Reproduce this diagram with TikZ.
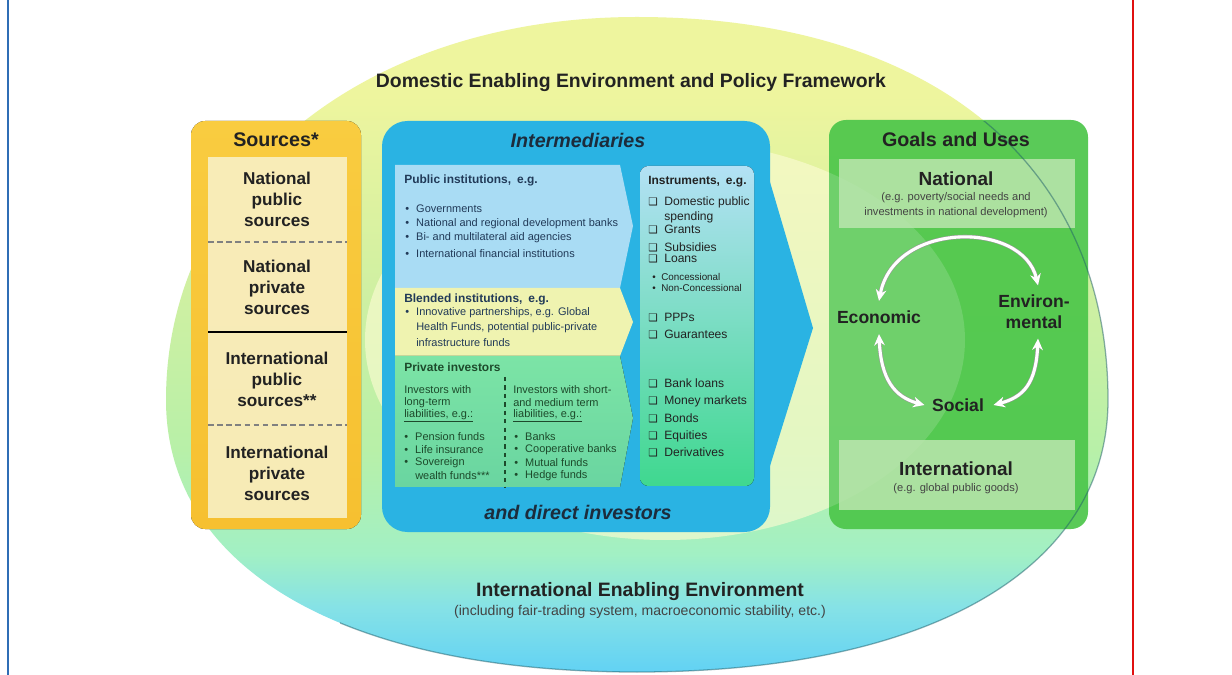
\documentclass[tikz,border=0pt]{standalone}
\usepackage{fontspec}
\setmainfont{Liberation Sans}
\newfontfamily\symfont{DejaVu Sans}
\usetikzlibrary{arrows.meta,positioning,calc}

\definecolor{PageBlue}{HTML}{2F6DB5}
\definecolor{PageRed}{HTML}{E01010}
\definecolor{EnvTop}{HTML}{EEF59E}
\definecolor{EnvMid}{HTML}{CFF0A2}
\definecolor{EnvLeaf}{HTML}{B8F0A8}
\definecolor{EnvMint}{HTML}{A2F0C4}
\definecolor{EnvCyan}{HTML}{86E2E6}
\definecolor{EnvBot}{HTML}{62D2F4}
\definecolor{EnvInner}{HTML}{FBFBD2}
\definecolor{EnvEdge}{HTML}{1F5F6A}
\definecolor{SrcGold}{HTML}{F6C030}
\definecolor{SrcGoldTop}{HTML}{F9CC40}
\definecolor{SrcCream}{HTML}{F8EFC2}
\definecolor{MidBlue}{HTML}{2AB3E3}
\definecolor{PubBlue}{HTML}{A9DCF4}
\definecolor{BlendYellow}{HTML}{EFF3B0}
\definecolor{PrivGreen}{HTML}{7CE4A6}
\definecolor{InstrTop}{HTML}{B3E1F5}
\definecolor{InstrMid}{HTML}{F3F5B2}
\definecolor{InstrBot}{HTML}{3FD88F}
\definecolor{GoalGreen}{HTML}{4CC64A}
\definecolor{GoalPale}{HTML}{BBE6AE}
\definecolor{InkDark}{HTML}{222222}
\definecolor{InkSlate}{HTML}{1C2C3C}
\definecolor{InkBlue}{HTML}{213A58}
\definecolor{InkGreen}{HTML}{1D4A2B}

% yellow at the top, green in the middle, sky blue at the bottom
\pgfdeclareverticalshading{envshade}{100bp}{color(0bp)=(EnvBot); color(25bp)=(EnvBot);
  color(30bp)=(EnvCyan); color(34bp)=(EnvMint); color(42bp)=(EnvLeaf);
  color(54bp)=(EnvMid); color(69bp)=(EnvTop); color(100bp)=(EnvTop)}

\newcommand{\ckbox}{\makebox[11.4pt][l]{{\symfont\fontsize{7.5}{8}\selectfont ❑}}}
\newcommand{\itm}{\makebox[7.8pt][l]{\textbullet}}
\newcommand{\itmgap}{\hspace*{7.8pt}}

\begin{document}
\begin{tikzpicture}[x=0.025cm, y=-0.025cm,
  bigtitle/.style={font=\fontsize{13.8}{16}\selectfont\bfseries, text=InkDark},
  envnote/.style={font=\fontsize{10}{12}\selectfont, text=InkDark!85},
  boxtitle/.style={font=\fontsize{14}{16}\selectfont\bfseries, text=InkDark},
  srclabel/.style={align=center, font=\fontsize{12.2}{15}\selectfont\bfseries, text=InkDark},
  midtitle/.style={font=\fontsize{14}{16}\selectfont\bfseries\itshape, text=InkSlate},
  panelhead/.style={anchor=west, inner sep=0pt, font=\fontsize{8.5}{10}\selectfont\bfseries, text=InkBlue},
  panelitem/.style={anchor=west, inner sep=0pt, font=\fontsize{7.8}{9}\selectfont, text=InkBlue},
  instritem/.style={anchor=west, inner sep=0pt, font=\fontsize{8.6}{10}\selectfont, text=InkDark},
  instrsub/.style={anchor=west, inner sep=0pt, font=\fontsize{7}{8}\selectfont, text=InkDark},
  goalhead/.style={font=\fontsize{13.5}{16}\selectfont\bfseries, text=InkDark},
  goalnote/.style={align=center, font=\fontsize{7.9}{10.7}\selectfont, text=InkDark!85},
  cyclabel/.style={align=center, font=\fontsize{12.5}{15}\selectfont\bfseries, text=InkDark, inner sep=1pt},
  cycarrow/.style={{Stealth[length=8pt,width=7.5pt]}-{Stealth[length=8pt,width=7.5pt]},
    white, line width=2.2pt, preaction={draw=black!40, line width=3pt}}
]

\useasboundingbox (0,0) rectangle (1232,675);
\fill[white] (0,0) rectangle (1232,675);
\draw[PageBlue, line width=1.4pt] (8,0) -- (8,675);
\draw[PageRed, line width=1.4pt] (1133,0) -- (1133,675);

% Enabling environment
\shade[shading=envshade]
  (166,400) .. controls (166,178) and (364,17) .. (637,17)
  .. controls (929,17) and (1108,162) .. (1108,400)
  .. controls (1108,569) and (929,672) .. (637,672)
  .. controls (345,672) and (166,569) .. (166,400) -- cycle;
\fill[EnvInner, opacity=.65] (665,340) ellipse [x radius=300, y radius=200];

% Sources
\fill[top color=SrcGoldTop, bottom color=SrcGold, rounded corners=10pt] (191,121) rectangle (361,529);
\fill[SrcCream, opacity=.92] (208,157) rectangle (347,518);
\draw[gray, dash pattern=on 4pt off 2.5pt, line width=0.9pt] (208,242) -- (347,242);
\draw[black, line width=1.8pt] (208,332) -- (347,332);
\draw[gray, dash pattern=on 4pt off 2.5pt, line width=0.9pt] (208,425) -- (347,425);

% Intermediaries
\fill[MidBlue] (765,165) -- (813,328) -- (765,482) -- cycle;
\fill[MidBlue, rounded corners=18pt] (382,121) rectangle (770,532);
\fill[PubBlue] (395,165) -- (620,165) -- (633,226) -- (620,288) -- (395,288) -- cycle;
\fill[BlendYellow] (395,288) -- (620,288) -- (633,322) -- (620,356) -- (395,356) -- cycle;
\fill[top color=PrivGreen, bottom color=PrivGreen!85!teal] (395,356) -- (620,356) -- (633,418) -- (620,487) -- (395,487) -- cycle;
\fill[top color=InstrTop, middle color=InstrMid, bottom color=InstrBot, rounded corners=6pt] (640,166) rectangle (754,486);
\draw[InkGreen, dashed, line width=0.8pt] (505,377) -- (505,487);

% Goals and uses
\fill[GoalGreen, rounded corners=12pt, opacity=.92] (829,120) rectangle (1088,529);
\begin{scope}
  \clip[rounded corners=12pt] (829,120) rectangle (1088,529);
  \fill[white, opacity=.14] (665,340) ellipse [x radius=300, y radius=200];
\end{scope}
\fill[GoalPale, opacity=.85] (839,159) rectangle (1075,228);
\fill[GoalPale, opacity=.85] (839,440) rectangle (1075,510);

% outer rim, darker on the lower right
\begin{scope}
  \clip (340,122) rectangle (1232,675);
  \draw[EnvEdge, opacity=.5, line width=0.9pt] (637,17)
    .. controls (929,17) and (1108,162) .. (1108,400)
    .. controls (1108,569) and (929,672) .. (637,672)
    .. controls (345,672) and (166,569) .. (166,400);
\end{scope}

% Titles
\node[bigtitle] (domestic) at (631,83) {Domestic Enabling Environment and Policy Framework};
\node[bigtitle] (intlenv) at (640,592) {International Enabling Environment};
\node[envnote] (intlnote) at (640,612) {(including fair-trading system, macroeconomic stability, etc.)};

% Sources text
\node[boxtitle] (srctitle) at (276,140) {Sources*};
\node[srclabel] (natpub) at (277,199) {National\\public\\sources};
\node[srclabel] (natpriv) at (277,287) {National\\private\\sources};
\node[srclabel] (intpub) at (277,379) {International\\public\\sources**};
\node[srclabel] (intpriv) at (277,473) {International\\private\\sources};

% Intermediaries text
\node[midtitle] (midtitle) at (578,140) {Intermediaries};
\node[midtitle] (midfoot) at (578,512) {and direct investors};

\node[panelhead] (pubhead) at (404,180) {Public institutions,\enspace e.g.};
\foreach \y/\txt [count=\i] in {209/Governments, 224/National and regional development banks,
    238/Bi- and multilateral aid agencies, 254/International financial institutions}
  \node[panelitem] (pub\i) at (405,\y) {\itm\txt};

\node[panelhead] (blendhead) at (404,299) {Blended institutions,\enspace e.g.};
\node[panelitem] (blend1) at (405,313) {\itm Innovative partnerships, e.g. Global};
\node[panelitem] (blend2) at (405,328) {\itmgap Health Funds, potential public-private};
\node[panelitem] (blend3) at (405,343) {\itmgap infrastructure funds};

\node[panelhead, text=InkGreen] (privhead) at (404,367) {Private investors};
\node[panelitem, text=InkGreen] (longa) at (404,390) {Investors with};
\node[panelitem, text=InkGreen] (longb) at (404,403) {long-term};
\node[panelitem, text=InkGreen] (longc) at (404,416) {\underline{liabilities, e.g.:}};
\foreach \y/\txt [count=\i] in {437/Pension funds, 450/Life insurance, 463/Sovereign}
  \node[panelitem, text=InkGreen] (long\i) at (404,\y) {\itm\txt};
\node[panelitem, text=InkGreen] (long4) at (404,476) {\itmgap wealth funds***};
\node[panelitem, text=InkGreen] (shorta) at (513,390) {Investors with short-};
\node[panelitem, text=InkGreen] (shortb) at (513,403) {and medium term};
\node[panelitem, text=InkGreen] (shortc) at (513,416) {\underline{liabilities, e.g.:}};
\foreach \y/\txt [count=\i] in {437/Banks, 450/Cooperative banks, 463/Mutual funds, 476/Hedge funds}
  \node[panelitem, text=InkGreen] (short\i) at (514,\y) {\itm\txt};

% Instruments
\node[panelhead, text=InkDark] (instrhead) at (648,182) {Instruments,\enspace e.g.};
\foreach \y/\txt [count=\i] in {202/Domestic public, 230/Grants, 247/Subsidies, 259/Loans,
    318/PPPs, 335/Guarantees, 383/Bank loans, 401/Money markets, 418/Bonds, 436/Equities, 452/Derivatives}
  \node[instritem] (instr\i) at (648,\y) {\ckbox\txt};
\node[instritem] (spend) at (648,217) {\hspace*{11.4pt}spending};
\node[instrsub] (conc) at (652,277) {\makebox[6.4pt][l]{\textbullet}Concessional};
\node[instrsub] (nonconc) at (652,288) {\makebox[6.4pt][l]{\textbullet}Non-Concessional};

% Goals text
\node[boxtitle] (goaltitle) at (956,139) {Goals and Uses};
\node[goalhead] (national) at (956,179) {National};
\node[goalnote] (natnote) at (956,205) {(e.g. poverty/social needs and\\investments in national development)};
\node[goalhead] (international) at (956,469) {International};
\node[goalnote] (intlnote2) at (956,489) {(e.g. global public goods)};

% Economic / environmental / social cycle
\node[cyclabel] (econ) at (879,317) {Economic};
\node[cyclabel] (envir) at (1034,312) {Environ-\\mental};
\node[cyclabel] (social) at (958,405) {Social};

\draw[cycarrow] ($(econ.north)+(0,-8)$) .. controls +(15,-80) and +(-15,-65) .. ($(envir.north)+(4,-8)$);
\draw[cycarrow] ($(econ.south)+(0,9)$) .. controls +(2,45) and +(-30,-8) .. ($(social.west)+(-6,0)$);
\draw[cycarrow] ($(envir.south)+(4,8)$) .. controls +(-2,45) and +(30,-8) .. ($(social.east)+(8,0)$);

\end{tikzpicture}
\end{document}
